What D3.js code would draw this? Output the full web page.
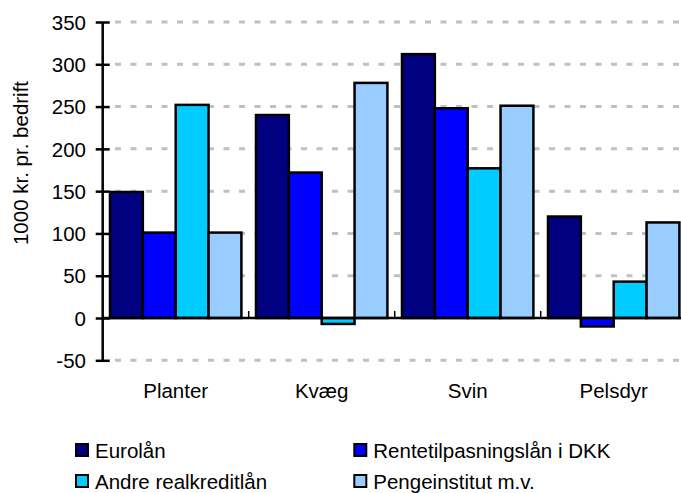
<!DOCTYPE html>
<html>
<head>
<meta charset="utf-8">
<script src="https://cdn.jsdelivr.net/npm/d3@7"></script>
<style>
  html, body { margin: 0; padding: 0; background: #fff; }
  svg { display: block; }
  text { font-family: "Liberation Sans", Arial, sans-serif; fill: #000; }
</style>
</head>
<body>
<svg id="chart" width="681" height="493"></svg>
<script>
const categories = ["Planter", "Kvæg", "Svin", "Pelsdyr"];
const seriesNames = ["Eurolån", "Rentetilpasningslån i DKK", "Andre realkreditlån", "Pengeinstitut m.v."];
const eurolaan = [149, 240, 312, 120];
const rentetilpasning = [101, 172, 248, -10];
const andreRealkredit = [252, -7, 177, 43];
const pengeinstitut = [101, 278, 251, 113];
const yTicks = [-50, 0, 50, 100, 150, 200, 250, 300, 350];
const colors = ["#000080", "#0000ff", "#00ccff", "#99ccff"];
const yTitle = "1000 kr. pr. bedrift";

const values = [eurolaan, rentetilpasning, andreRealkredit, pengeinstitut];

const svg = d3.select("#chart");
const fontSize = 20.5;

const y = d3.scaleLinear().domain([-50, 350]).range([360.3, 22]);
const x0 = d3.scaleBand().domain(categories).range([102.7, 686.7]).paddingInner(0).paddingOuter(0);
const x1 = d3.scaleBand().domain(seriesNames).range([0, x0.bandwidth()]).paddingInner(0).paddingOuter(0.222);

// gridlines (dashed), except at 0
svg.append("g")
  .selectAll("line")
  .data(yTicks.filter(t => t !== 0))
  .join("line")
  .attr("x1", 115).attr("x2", 681)
  .attr("y1", d => y(d)).attr("y2", d => y(d))
  .attr("stroke", "#c0c0c0")
  .attr("stroke-width", 3)
  .attr("stroke-dasharray", "6,9.5");

// bars
const groups = svg.append("g").selectAll("g")
  .data(categories)
  .join("g")
  .attr("transform", d => `translate(${x0(d)},0)`);

groups.selectAll("rect")
  .data((c, ci) => seriesNames.map((s, si) => ({ s, si, v: values[si][ci] })))
  .join("rect")
  .attr("x", d => x1(d.s))
  .attr("width", x1.bandwidth())
  .attr("y", d => Math.min(y(d.v), y(0)))
  .attr("height", d => Math.abs(y(d.v) - y(0)))
  .attr("fill", d => colors[d.si])
  .attr("stroke", "#000")
  .attr("stroke-width", 2.5);

// x axis line
svg.append("line")
  .attr("x1", x0.range()[0]).attr("x2", 681)
  .attr("y1", y(0)).attr("y2", y(0))
  .attr("stroke", "#000").attr("stroke-width", 2.5);

// category ticks at band boundaries (upward)
svg.append("g").selectAll("line")
  .data(categories.slice(1))
  .join("line")
  .attr("x1", d => x0(d)).attr("x2", d => x0(d))
  .attr("y1", y(0)).attr("y2", y(0) - 7)
  .attr("stroke", "#000").attr("stroke-width", 1.5);

// category labels
svg.append("g").selectAll("text")
  .data(categories)
  .join("text")
  .attr("x", d => x0(d) + x0.bandwidth() / 2)
  .attr("y", 398)
  .attr("text-anchor", "middle")
  .attr("font-size", fontSize)
  .text(d => d);

// y axis
const yAxis = d3.axisLeft(y).tickValues(yTicks).tickFormat(d => String(d)).tickSize(0).tickPadding(0);
const yg = svg.append("g").attr("transform", "translate(102.7,0)").call(yAxis);
yg.select(".domain").remove();
yg.append("line").attr("x1", 0).attr("x2", 0).attr("y1", y(350)).attr("y2", y(-50))
  .attr("stroke", "#000").attr("stroke-width", 2.5);
yg.selectAll(".tick line").remove();
yg.selectAll(".tick").append("line")
  .attr("x1", -7).attr("x2", 7).attr("y1", 0).attr("y2", 0)
  .attr("stroke", "#000").attr("stroke-width", 2.5);
yg.selectAll(".tick text")
  .attr("x", -16.7)
  .attr("dy", "0.35em")
  .attr("font-size", fontSize)
  .attr("font-family", "\"Liberation Sans\", Arial, sans-serif")
  .attr("fill", "#000");

// y axis title
svg.append("text")
  .attr("transform", "translate(28.3,163) rotate(-90)")
  .attr("text-anchor", "middle")
  .attr("font-size", fontSize)
  .text(yTitle);

// legend
const legendPos = [
  { x: 75, y: 443 }, { x: 353.3, y: 443 },
  { x: 75, y: 474 }, { x: 353.3, y: 474 }
];
const lg = svg.append("g").selectAll("g")
  .data(seriesNames)
  .join("g")
  .attr("transform", (d, i) => `translate(${legendPos[i].x},${legendPos[i].y})`);
lg.append("rect")
  .attr("x", 1).attr("y", 1).attr("width", 12).attr("height", 12)
  .attr("fill", (d, i) => colors[i])
  .attr("stroke", "#000").attr("stroke-width", 2);
lg.append("text")
  .attr("x", 20)
  .attr("y", 15)
  .attr("font-size", fontSize)
  .text(d => d);
</script>
</body>
</html>
